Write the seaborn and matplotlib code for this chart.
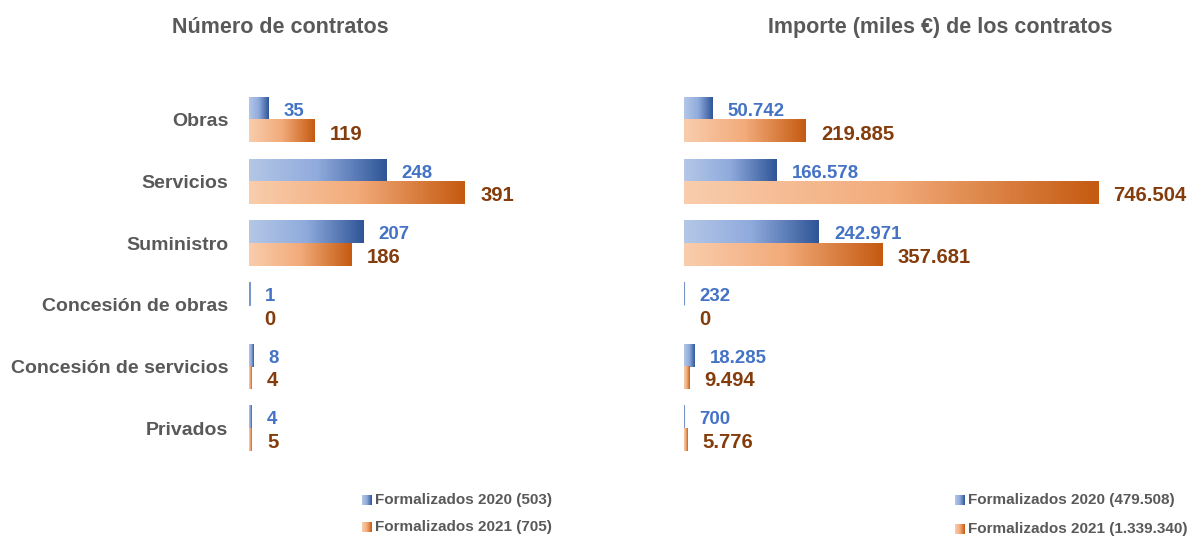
import numpy as np
import pandas as pd
import matplotlib
matplotlib.use("Agg")
import matplotlib.pyplot as plt
import seaborn as sns
from matplotlib.colors import LinearSegmentedColormap

# datos
categorias = ["Obras", "Servicios", "Suministro", "Concesión de obras",
              "Concesión de servicios", "Privados"]
series = ["Formalizados 2020", "Formalizados 2021"]
num_2020 = [35, 248, 207, 1, 8, 4]
num_2021 = [119, 391, 186, 0, 4, 5]
imp_2020 = [50742, 166578, 242971, 232, 18285, 700]
imp_2021 = [219885, 746504, 357681, 0, 9494, 5776]
titulos = ["Número de contratos", "Importe (miles €) de los contratos"]

W, H = 1193, 538
gris = "#595959"
azul_txt = "#4472C4"
naranja_txt = "#843C0C"
cmap_azul = LinearSegmentedColormap.from_list("az", ["#B4C7E7", "#8FAADC", "#2F5597"])
cmap_nar = LinearSegmentedColormap.from_list("na", ["#F9CDAD", "#F2AB7A", "#C55A11"])
cmaps = [cmap_azul, cmap_nar]

sns.set_theme(style="white")
plt.rcParams["font.family"] = ["Liberation Sans", "DejaVu Sans"]


def miles(v):
    return f"{v:,}".replace(",", ".")


def degradado(ax, bar, cmap, xmax):
    x, y = bar.get_x(), bar.get_y()
    w, h = bar.get_width(), bar.get_height()
    bar.set_facecolor("none")
    bar.set_linewidth(0)
    if w <= 0:
        return
    if w < xmax * 0.004:
        bar.set_edgecolor(cmap(0.6))
        bar.set_linewidth(0.8)
    grad = np.linspace(0, 1, 256).reshape(1, -1)
    ax.imshow(grad, cmap=cmap, extent=[x, x + w, y + h, y], aspect="auto",
              zorder=2, interpolation="bicubic")


def panel(ax, v20, v21, xmax, etiquetas):
    df = pd.DataFrame({
        "cat": categorias * 2,
        "serie": [series[0]] * len(categorias) + [series[1]] * len(categorias),
        "valor": v20 + v21,
    })
    sns.barplot(data=df, y="cat", x="valor", hue="serie", orient="h", width=0.73,
                palette=["#2F5597", "#C55A11"], errorbar=None, legend=False, ax=ax)
    for i, cont in enumerate(ax.containers):
        for bar, v in zip(cont, [v20, v21][i]):
            degradado(ax, bar, cmaps[i], xmax)
            ax.annotate(miles(v), xy=(bar.get_x() + bar.get_width(), bar.get_y() + bar.get_height() / 2),
                        xytext=(11, -2.2 if i else -2), textcoords="offset points", ha="left", va="center",
                        color=[azul_txt, naranja_txt][i], fontweight="bold",
                        fontsize=[13.4, 14.6][i])
    ax.set_xlim(0, xmax)
    ax.set_ylim(len(categorias) - 0.5, -0.5)
    ax.set_xlabel("")
    ax.set_ylabel("")
    ax.set_xticks([])
    sns.despine(ax=ax, left=True, bottom=True)
    if etiquetas:
        ax.tick_params(axis="y", length=0, pad=15, labelsize=14, labelcolor=gris)
        for t in ax.get_yticklabels():
            t.set_fontweight("bold")
    else:
        ax.set_yticks([])


fig = plt.figure(figsize=(W / 100, H / 100), dpi=100)
y0, alto = (H - 459) / H, 370 / H

ax1 = fig.add_axes([249 / W, y0, 311 / W, alto])
panel(ax1, num_2020, num_2021, max(num_2021) * 311 / 216, True)

ax2 = fig.add_axes([684 / W, y0, 509 / W, alto])
panel(ax2, imp_2020, imp_2021, max(imp_2021) * 509 / 414, False)

fig.text(280 / W, 1 - 28 / H, titulos[0], ha="center", va="center",
         fontsize=15.5, fontweight="bold", color=gris)
fig.text(940 / W, 1 - 28 / H, titulos[1], ha="center", va="center",
         fontsize=15.5, fontweight="bold", color=gris)

# leyendas
totales = [[sum(num_2020), sum(num_2021)], [sum(imp_2020), sum(imp_2021)]]
for lx, tot, filas in [(362, totales[0], (500, 527)), (955, totales[1], (500, 529))]:
    for i, yy in enumerate(filas):
        sq = fig.add_axes([lx / W, 1 - (yy + 5) / H, 10 / W, 10 / H])
        sq.imshow(np.linspace(0, 1, 64).reshape(1, -1), cmap=cmaps[i], aspect="auto")
        sq.axis("off")
        fig.text((lx + 13) / W, 1 - yy / H, f"{series[i]} ({miles(tot[i])})",
                 ha="left", va="center", fontsize=11, fontweight="bold", color=gris)

fig.savefig("out.png", dpi=100)
